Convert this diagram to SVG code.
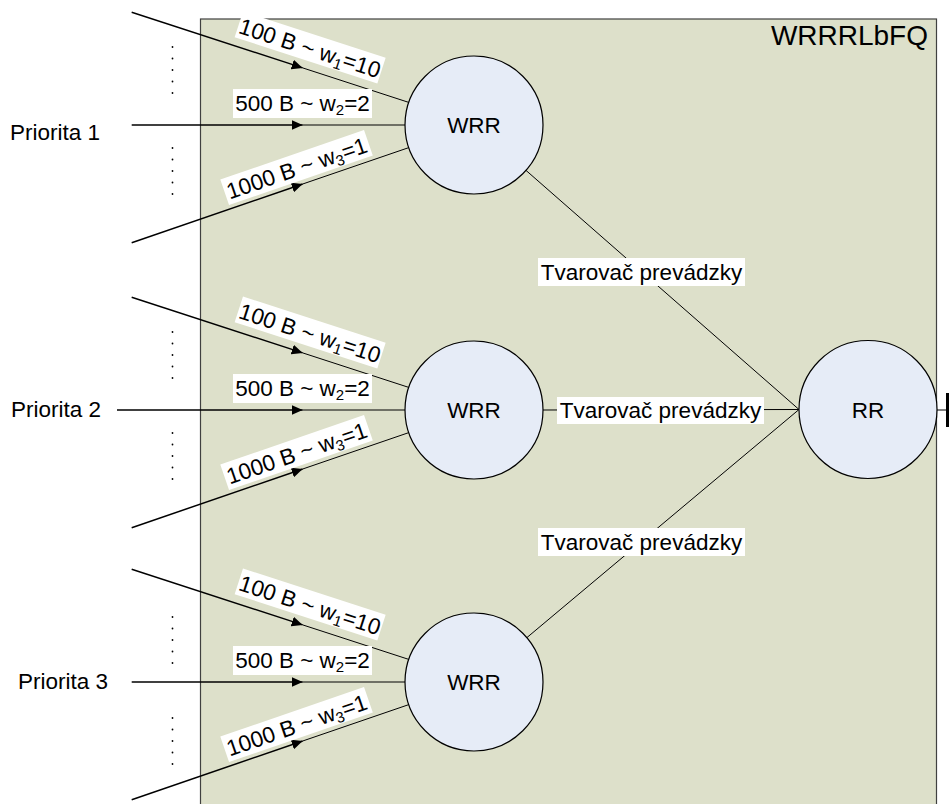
<svg xmlns="http://www.w3.org/2000/svg" width="949" height="804" viewBox="0 0 949 804">
<defs>
<marker id="ah" markerUnits="userSpaceOnUse" viewBox="0 0 11 10" refX="11" refY="5" markerWidth="11" markerHeight="10" orient="auto">
<path d="M0,0 L11,5 L0,10 z" fill="#000"/>
</marker>
<style>
text{font-family:"Liberation Sans",Arial,sans-serif;font-size:22.5px;fill:#000}
.in{stroke:#000;stroke-width:1.5;fill:none}
.in2{stroke:#000;stroke-width:1;fill:none}
.c{fill:#e6ecf7;stroke:#000;stroke-width:1.2}
.lbl{fill:#fff}
.dot{fill:#000}
.sub{font-size:15px}
</style>
</defs>
<rect width="949" height="804" fill="#fff"/>
<g id="frame">
<rect x="200.5" y="19" width="736" height="800" fill="#dde0ca" stroke="#404040" stroke-width="1.2"/>
<text x="928" y="45" text-anchor="end" style="font-size:28px">WRRRLbFQ</text>
</g>
<g id="connectors">
<!-- group 1 cy=125 -->
<line class="in" x1="131.7" y1="12.3" x2="302.7" y2="67.9" marker-end="url(#ah)"/>
<line class="in2" x1="302.7" y1="67.9" x2="410" y2="102.8"/>
<line class="in" x1="131.7" y1="125" x2="302.7" y2="125" marker-end="url(#ah)"/>
<line class="in2" x1="302.7" y1="125" x2="410" y2="125"/>
<line class="in" x1="131.7" y1="242.7" x2="302.7" y2="184" marker-end="url(#ah)"/>
<line class="in2" x1="302.7" y1="184" x2="410" y2="147.2"/>
<!-- group 2 cy=410 -->
<line class="in" x1="131.7" y1="297.3" x2="302.7" y2="352.9" marker-end="url(#ah)"/>
<line class="in2" x1="302.7" y1="352.9" x2="410" y2="387.8"/>
<line class="in" x1="117" y1="410" x2="302.7" y2="410" marker-end="url(#ah)"/>
<line class="in2" x1="302.7" y1="410" x2="410" y2="410"/>
<line class="in" x1="131.7" y1="527.7" x2="302.7" y2="469" marker-end="url(#ah)"/>
<line class="in2" x1="302.7" y1="469" x2="410" y2="432.2"/>
<!-- group 3 cy=682 -->
<line class="in" x1="131.7" y1="569.3" x2="302.7" y2="624.9" marker-end="url(#ah)"/>
<line class="in2" x1="302.7" y1="624.9" x2="410" y2="659.8"/>
<line class="in" x1="131.7" y1="682" x2="302.7" y2="682" marker-end="url(#ah)"/>
<line class="in2" x1="302.7" y1="682" x2="410" y2="682"/>
<line class="in" x1="131.7" y1="799.7" x2="302.7" y2="741" marker-end="url(#ah)"/>
<line class="in2" x1="302.7" y1="741" x2="410" y2="704.2"/>
<!-- shapers -->
<line class="in2" x1="526" y1="170.4" x2="799" y2="409.5"/>
<line class="in2" x1="543" y1="410" x2="799" y2="409.5"/>
<line class="in2" x1="526.9" y1="637.6" x2="799" y2="409.5"/>
<!-- output -->
<line class="in2" x1="905" y1="410" x2="947" y2="410"/>
<rect x="946" y="393" width="3" height="34" fill="#000"/>
</g>
<g id="dots">
<g id="dots1" class="dot">
<circle cx="172.5" cy="47" r="0.9"/><circle cx="172.5" cy="58.5" r="0.9"/><circle cx="172.5" cy="70" r="0.9"/><circle cx="172.5" cy="81.5" r="0.9"/><circle cx="172.5" cy="93" r="0.9"/>
<circle cx="172.5" cy="148" r="0.9"/><circle cx="172.5" cy="159.5" r="0.9"/><circle cx="172.5" cy="171" r="0.9"/><circle cx="172.5" cy="182.5" r="0.9"/><circle cx="172.5" cy="194" r="0.9"/>
</g>
<g id="dots2" class="dot">
<circle cx="172.5" cy="332" r="0.9"/><circle cx="172.5" cy="343.5" r="0.9"/><circle cx="172.5" cy="355" r="0.9"/><circle cx="172.5" cy="366.5" r="0.9"/><circle cx="172.5" cy="378" r="0.9"/>
<circle cx="172.5" cy="433" r="0.9"/><circle cx="172.5" cy="444.5" r="0.9"/><circle cx="172.5" cy="456" r="0.9"/><circle cx="172.5" cy="467.5" r="0.9"/><circle cx="172.5" cy="479" r="0.9"/>
</g>
<g id="dots3" class="dot">
<circle cx="172.5" cy="617" r="0.9"/><circle cx="172.5" cy="628.5" r="0.9"/><circle cx="172.5" cy="640" r="0.9"/><circle cx="172.5" cy="651.5" r="0.9"/><circle cx="172.5" cy="663" r="0.9"/>
<circle cx="172.5" cy="718" r="0.9"/><circle cx="172.5" cy="729.5" r="0.9"/><circle cx="172.5" cy="741" r="0.9"/><circle cx="172.5" cy="752.5" r="0.9"/><circle cx="172.5" cy="764" r="0.9"/>
</g>
</g>
<g id="priorities">
<text x="10" y="140">Priorita 1</text>
<text x="11" y="417">Priorita 2</text>
<text x="18" y="689">Priorita 3</text>
</g>
<g id="labels1">
<g transform="translate(310,48) rotate(18)"><rect class="lbl" x="-75" y="-14" width="150" height="27"/><text x="0" y="8" text-anchor="middle">100 B ~ w<tspan class="sub" dy="4">1</tspan><tspan dy="-4">=10</tspan></text></g>
<rect class="lbl" x="233" y="89" width="139" height="29"/><text x="302.5" y="111" text-anchor="middle">500 B ~ w<tspan class="sub" dy="4">2</tspan><tspan dy="-4">=2</tspan></text>
<g transform="translate(296.7,168) rotate(-19)"><rect class="lbl" x="-76" y="-14" width="152" height="27"/><text x="0" y="8" text-anchor="middle">1000 B ~ w<tspan class="sub" dy="4">3</tspan><tspan dy="-4">=1</tspan></text></g>
</g>
<g id="labels2">
<g transform="translate(310,333) rotate(18)"><rect class="lbl" x="-75" y="-14" width="150" height="27"/><text x="0" y="8" text-anchor="middle">100 B ~ w<tspan class="sub" dy="4">1</tspan><tspan dy="-4">=10</tspan></text></g>
<rect class="lbl" x="233" y="374" width="139" height="29"/><text x="302.5" y="396" text-anchor="middle">500 B ~ w<tspan class="sub" dy="4">2</tspan><tspan dy="-4">=2</tspan></text>
<g transform="translate(296.7,453) rotate(-19)"><rect class="lbl" x="-76" y="-14" width="152" height="27"/><text x="0" y="8" text-anchor="middle">1000 B ~ w<tspan class="sub" dy="4">3</tspan><tspan dy="-4">=1</tspan></text></g>
</g>
<g id="labels3">
<g transform="translate(310,605) rotate(18)"><rect class="lbl" x="-75" y="-14" width="150" height="27"/><text x="0" y="8" text-anchor="middle">100 B ~ w<tspan class="sub" dy="4">1</tspan><tspan dy="-4">=10</tspan></text></g>
<rect class="lbl" x="233" y="646" width="139" height="29"/><text x="302.5" y="668" text-anchor="middle">500 B ~ w<tspan class="sub" dy="4">2</tspan><tspan dy="-4">=2</tspan></text>
<g transform="translate(296.7,725) rotate(-19)"><rect class="lbl" x="-76" y="-14" width="152" height="27"/><text x="0" y="8" text-anchor="middle">1000 B ~ w<tspan class="sub" dy="4">3</tspan><tspan dy="-4">=1</tspan></text></g>
</g>
<g id="shaper-labels">
<rect class="lbl" x="538" y="258" width="207" height="28"/><text x="641.5" y="280" text-anchor="middle">Tvarovač prevádzky</text>
<rect class="lbl" x="557" y="397" width="207" height="27"/><text x="660.5" y="418" text-anchor="middle">Tvarovač prevádzky</text>
<rect class="lbl" x="538" y="528" width="207" height="28"/><text x="641.5" y="550" text-anchor="middle">Tvarovač prevádzky</text>
</g>
<g id="wrr1"><circle class="c" cx="474" cy="125" r="69"/><text x="474" y="133" text-anchor="middle">WRR</text></g>
<g id="wrr2"><circle class="c" cx="474" cy="410" r="69"/><text x="474" y="418" text-anchor="middle">WRR</text></g>
<g id="wrr3"><circle class="c" cx="474" cy="682" r="69"/><text x="474" y="690" text-anchor="middle">WRR</text></g>
<g id="rr"><circle class="c" cx="868" cy="409.5" r="69"/><text x="868" y="418" text-anchor="middle">RR</text></g>
</svg>
